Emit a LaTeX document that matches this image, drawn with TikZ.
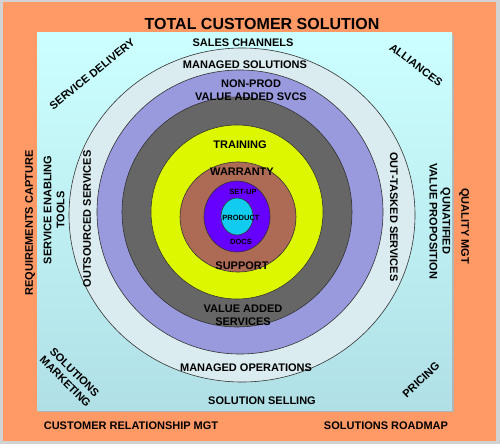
\documentclass[tikz,border=0pt]{standalone}
\usepackage{fontspec}
\setmainfont{Liberation Sans}
\usetikzlibrary{positioning}

\definecolor{frameorange}{HTML}{FF9966}
\definecolor{skytop}{HTML}{CCFFFF}
\definecolor{skybottom}{HTML}{B0E0E6}
\definecolor{paleblue}{HTML}{DAECEF}
\definecolor{lavender}{HTML}{9999DD}
\definecolor{darkring}{HTML}{666666}
\definecolor{limering}{HTML}{DDF700}
\definecolor{brownring}{HTML}{AD6B55}
\definecolor{violetring}{HTML}{6600FF}
\definecolor{cyancore}{HTML}{11CCEE}

\begin{document}
\begin{tikzpicture}[x=1pt,y=-1pt]
    %%%%% THE FRAME
    \fill[gray!35] (0,0) rectangle (500,444);
    \fill[frameorange] (3,2) rectangle (496,441);
    \fill[black!30] (39,35) rectangle (454,412);
    \shade[top color=skytop,bottom color=skybottom] (37,33) rectangle (452,410);
    %%%%% THE RINGS
    \begin{scope}[draw=black!80,line width=0.6pt]
      \filldraw[fill=paleblue] (242,215) ellipse [x radius=173pt, y radius=167pt];
      \filldraw[fill=lavender] (240,212) ellipse [x radius=143pt, y radius=142pt];
      \filldraw[fill=darkring] (237,212) ellipse [x radius=115pt, y radius=115pt];
      \filldraw[fill=limering] (237,212) ellipse [x radius=86pt, y radius=87pt];
      \filldraw[fill=brownring] (238,217) ellipse [x radius=58pt, y radius=55pt];
      \filldraw[fill=violetring] (237,216.5) ellipse [x radius=33pt, y radius=35.5pt];
      \filldraw[fill=cyancore] (237,216.5) ellipse [x radius=16pt, y radius=18.5pt];
    \end{scope}
    %%%%% THE LABELS
    \node[font=\fontsize{16}{18}\selectfont\bfseries,inner sep=0pt] (title) at (262,24) {TOTAL CUSTOMER SOLUTION};
    \begin{scope}[every node/.style={font=\fontsize{11}{13}\selectfont\bfseries,align=center,inner sep=0pt}]
      % inner rings
      \node (salesch) at (243,43) {SALES CHANNELS};
      \node (mgdsol) at (245,65) {MANAGED SOLUTIONS};
      \node (nonprod) at (251,90) {NON-PROD\\VALUE ADDED SVCS};
      \node (training) at (240,145) {TRAINING};
      \node (warranty) at (242,172) {WARRANTY};
      \node (support) at (242,266) {SUPPORT};
      \node (vaserv) at (243,315) {VALUE ADDED\\SERVICES};
      \node (mgdops) at (246,368) {MANAGED OPERATIONS};
      \node (solsell) at (262,401) {SOLUTION SELLING};
      \node[rotate=90] (outsrc) at (87,219) {OUTSOURCED SERVICES};
      \node[rotate=-90] (outtask) at (394,217) {OUT-TASKED SERVICES};
      % corners of the square
      \node[rotate=39] (servdel) at (92,74) {SERVICE DELIVERY};
      \node[rotate=-37] (alliance) at (416,65) {ALLIANCES};
      \node[rotate=-45] (solmkt) at (70,377) {SOLUTIONS\\MARKETING};
      \node[rotate=43] (pricing) at (421,380) {PRICING};
      \node[rotate=90] (sentools) at (54,210) {SERVICE ENABLING\\TOOLS};
      \node[rotate=-90] (quantval) at (440,221) {QUNATIFIED\\VALUE PROPOSITION};
      % orange frame
      \node[rotate=90] (reqcap) at (30,223) {REQUIREMENTS CAPTURE};
      \node[rotate=-90] (qualmgt) at (464,226) {QUALITY MGT};
      \node (crm) at (131,426) {CUSTOMER RELATIONSHIP MGT};
      \node (roadmap) at (386,426) {SOLUTIONS ROADMAP};
    \end{scope}
    %%%%% THE CORE
    \begin{scope}[every node/.style={font=\fontsize{7.5}{9}\selectfont\bfseries,inner sep=0pt}]
      \node (setup) at (243,192) {SET-UP};
      \node (product) at (241,218) {PRODUCT};
      \node (docs) at (241,242) {DOCS};
    \end{scope}
\end{tikzpicture}
\end{document}
